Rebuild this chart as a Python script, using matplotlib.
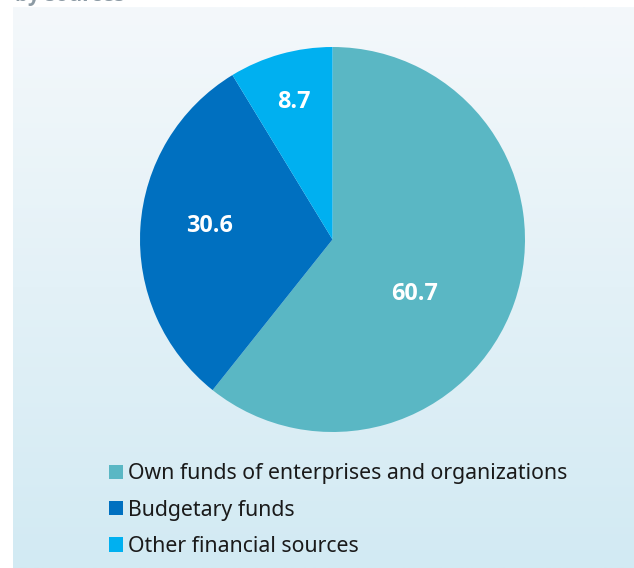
import numpy as np
import matplotlib.pyplot as plt
from matplotlib.patches import Patch

plt.rcParams['font.family'] = ['Noto Sans', 'DejaVu Sans']

# Structure of investment by financing source, %
sources = ['Own funds of enterprises and organizations',
           'Budgetary funds',
           'Other financial sources']
shares = [60.7, 30.6, 8.7]
colors = ['#5ab7c4', '#0070c0', '#00b0f0']

# label placement inside each wedge: (fraction of radius, angle shift in degrees)
label_pos = [(0.51, -14.5), (0.64, -2.5), (0.74, 0.0)]

W, H = 634, 568
fig = plt.figure(figsize=(W / 100, H / 100), dpi=100, facecolor='white')

# panel with soft vertical gradient
bg = fig.add_axes([13 / W, 0, 1 - 13 / W, (H - 7) / H])
top = np.array([0xf4, 0xf8, 0xfb]) / 255
bottom = np.array([0xd2, 0xea, 0xf3]) / 255
t = np.linspace(0, 1, 256)[:, None, None]
grad = top * (1 - t) + bottom * t
bg.imshow(grad, aspect='auto', extent=[0, 1, 0, 1], origin='upper')
bg.set_axis_off()

# heading above the panel, mostly outside the canvas
fig.text(15 / W, 1 - 1.0 / H, 'by sources', color='#8c9aa4', fontsize=15,
         family=['Open Sans', 'DejaVu Sans'], fontweight='bold',
         va='baseline', ha='left')

cx, cy, r = 332.5, 239.5, 192.5
ax = fig.add_axes([(cx - r) / W, 1 - (cy + r) / H, 2 * r / W, 2 * r / H])
wedges, _ = ax.pie(shares, colors=colors, startangle=90, counterclock=False,
                   radius=1.0, wedgeprops=dict(linewidth=0))
ax.set_xlim(-1, 1)
ax.set_ylim(-1, 1)
ax.set_aspect('equal')
ax.set_axis_off()

for w, val, (frac, dth) in zip(wedges, shares, label_pos):
    ang = np.deg2rad((w.theta1 + w.theta2) / 2 + dth)
    ax.text(frac * np.cos(ang), frac * np.sin(ang), f'{val:.1f}',
            color='white', fontsize=16.8, fontweight='bold',
            family=['Open Sans', 'DejaVu Sans'],
            ha='center', va='center')

handles = [Patch(facecolor=c, edgecolor='none') for c in colors]
fig.legend(handles, sources, loc='upper left',
           bbox_to_anchor=(109 / W, 1 - 463.5 / H), frameon=False,
           fontsize=15.3, handlelength=0.66, handleheight=0.66,
           handletextpad=0.235, labelspacing=0.715, borderpad=0,
           borderaxespad=0, labelcolor='#1a1a1a')

fig.savefig('out.png', dpi=100)
